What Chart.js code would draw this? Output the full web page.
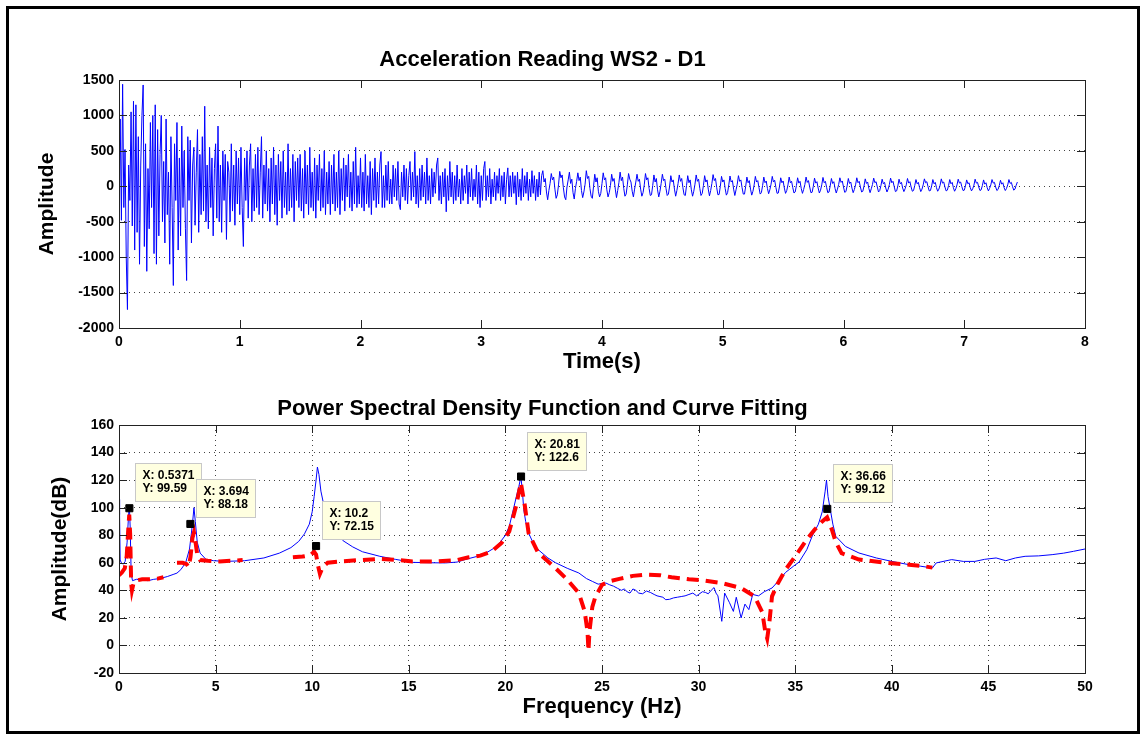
<!DOCTYPE html>
<html><head><meta charset="utf-8">
<script src="https://cdn.jsdelivr.net/npm/chart.js@4.4.1/dist/chart.umd.min.js"></script>
<style>
html,body{margin:0;padding:0;background:#fff;}
body{width:1144px;height:740px;position:relative;overflow:hidden;}
#c1{position:absolute;left:0;top:0;width:1144px;height:390px;}
#c2{position:absolute;left:0;top:390px;width:1144px;height:350px;}
#frame{position:absolute;left:6px;top:6px;width:1134px;height:728px;box-sizing:border-box;border:3px solid #000;pointer-events:none;}
</style></head>
<body>
<canvas id="c1" width="1144" height="390"></canvas>
<canvas id="c2" width="1144" height="350"></canvas>
<div id="frame"></div>
<script>
// ---------- DATA ----------
const SAMPLE_DT = 0.01; // s, sampling interval of the acceleration record
const accel = [
 200,950,-480,1440,-300,520,-1000,-1740,300,-200,1050,-560,1200,-900,1150,-650,700,-1100,300,1000,1430,-850,600,-1200,250,
 -600,900,-300,1000,-950,1150,-1100,800,-700,450,1000,-500,350,-800,950,-400,200,-1100,700,-300,-1400,600,-200,900,-900,
 400,-700,850,-300,500,-600,-1330,700,-200,650,-800,300,550,-550,200,800,-650,450,-400,700,-350,1130,-500,300,-600,
 550,-300,400,-700,250,600,-450,850,-500,300,-650,500,-200,450,-750,350,200,-500,600,-350,300,-550,500,-250,400,
 -400,550,-300,-850,400,-200,500,-450,300,600,-500,250,-350,450,-300,550,-400,200,700,-450,300,-250,500,-350,250,
 -500,400,-250,550,-400,300,-550,450,-200,350,-450,500,-300,200,-400,600,-350,250,-300,450,-500,350,-200,400,-300,
 450,-350,250,-450,500,-250,300,-400,550,-300,200,-350,400,-450,300,-200,450,-350,250,-300,500,-400,200,-250,350,
 -400,300,-250,450,-350,200,-300,500,-400,250,-200,400,-350,300,-150,450,-300,200,-350,350,-250,550,-300,150,-250,
 400,-300,200,-350,450,-250,150,-300,350,-400,250,-200,400,-300,200,-250,300,490,-300,150,-300,300,-200,350,-250,
 100,-250,300,-150,250,-200,350,-250,-330,200,-150,300,-200,250,-250,150,350,-200,200,-150,490,-250,150,-300,250,
 -200,300,-150,200,-250,400,-200,150,-250,250,-150,200,-100,300,400,-200,150,-250,200,-150,250,-360,150,-200,350,
 -150,200,-250,150,-200,300,-150,100,-250,250,-200,150,-100,300,-250,200,-150,250,-200,100,-150,300,-250,200,-300,
 150,-200,250,350,-200,150,-150,250,-250,100,-150,200,-200,150,-100,250,-200,150,-150,200,-250,100,260,-150,150,
 -150,200,-100,150,-260,200,-150,100,-200,250,-150,150,-100,200,-200,100,-150,220,-100,150,-200,100,-150,200,-120,
 150,220,60,110,-80,-190,-60,40,180,90,130,-40,-170,-120,20,210,120,160,-20,-150,-190,-10,90,200,40,
 100,-90,-180,-30,70,190,80,130,-60,-160,-80,30,220,110,140,-30,-140,-170,0,170,60,120,-70,-150,-100,
 40,190,90,120,-50,-150,-90,10,170,70,110,-40,-160,-60,50,200,80,130,-30,-140,-110,20,180,100,60,
 -70,-150,-40,60,170,70,100,-40,-140,-90,20,180,90,120,-30,-130,-120,10,160,60,110,-50,-150,-70,40,
 170,80,100,-30,-130,-110,0,150,60,90,-40,-140,-60,40,160,70,110,-20,-120,-130,10,150,50,90,-50,
 -140,-70,30,160,70,100,-30,-130,-100,10,150,60,90,-40,-135,-60,40,165,80,110,-20,-120,-115,0,140,
 60,90,-30,-125,-90,20,145,60,80,-40,-130,-50,30,150,70,90,-20,-110,-110,0,130,50,80,-40,-125,
 -70,20,140,60,80,-20,-110,-90,10,130,50,75,-30,-105,-50,30,140,60,85,-15,-100,-95,0,120,50,
 75,-25,-100,-60,20,130,50,70,-20,-95,-80,10,120,45,70,-30,-100,-45,25,130,55,80,-10,-90,-85,
 0,115,45,65,-25,-95,-55,20,125,50,70,-15,-90,-80,5,110,40,65,-30,-95,-40,25,120,55,75,
 -10,-85,-75,5,110,40,60,-25,-90,-45,20,120,50,70,-10,-80,-70,5,105,40,60,-30,-90,-35,25,
 115,50,65,-10,-80,-60,10,100,35,55,-25,-80,-40,25,115,50,70,-5,-75,-65,5,100,35,55,-25,
 -75,-35,20,110,45,65,-10,-70,-60,10,95,35,55,-20,-75,-40,20,105,50,65,-5,-65,-60,5,95,
 35,55,-20,-70,-40,15,105,45,60,-10,-65,-55,10,95,35,55,-20,-70,-35,20,100,45,60,-5,-60,
 -55,5,90,35,50,-20,-65,-35,15,100,45,55,-10,-60,-50,10,90,30,50,-20,-65,-30,20,95,45,
 55,-10,-60,-45,10,85,30,50,-20,-60,-30,20,95,40,55,-5,-55,-40,15,60
];

// PSD (blue) [frequency Hz, amplitude dB]
const psd = [
 [0,106],[0.03,95],[0.06,62],[0.12,60],[0.22,59],[0.32,61],[0.42,75],[0.5,96],[0.54,100],[0.58,85],
 [0.63,52],[0.7,47],[0.9,48],[1.2,47.5],[1.5,47],[1.8,48],[2.1,48.5],[2.5,50],[2.8,51.5],[3.0,52.5],
 [3.2,55],[3.45,60],[3.65,70],[3.8,88],[3.88,100],[3.95,90],[4.05,75],[4.2,67],[4.5,62.5],[4.9,61.5],
 [5.5,61],[6.5,61.5],[7.5,63.5],[8.3,67],[8.9,71],[9.3,75.5],[9.6,81],[9.85,88],[10.0,97],[10.1,108],
 [10.2,120],[10.27,129.5],[10.35,124],[10.45,112],[10.6,102],[10.85,90],[11.2,82],[11.6,76],[12.1,71.5],[12.6,68],
 [13.5,64.7],[14.3,62.5],[15.2,60.3],[16.2,60],[16.9,59.9],[17.5,60.5],[17.9,62.3],[18.5,64.5],[19.0,67.1],[19.4,70.5],
 [19.7,74.4],[20.0,80],[20.2,86.4],[20.45,101],[20.6,110],[20.7,115.5],[20.8,122.5],[20.88,112],[20.95,98.5],[21.05,90],
 [21.2,81.6],[21.45,74],[21.7,69.5],[22.2,63.5],[22.6,60],[23.2,56],[23.8,52.6],[24.2,48.5],[24.5,46.5],[24.8,44.5],
 [25.2,45.3],[25.4,44],[25.6,43],[25.8,41.5],[26.0,40],[26.15,41],[26.3,39],[26.45,38],[26.6,41],[26.75,40],
 [26.9,38],[27.1,37.5],[27.3,39.5],[27.5,38.5],[27.7,37],[27.85,36],[28.0,35.5],[28.15,35],[28.3,33.2],[28.5,33.5],
 [28.7,34.5],[28.9,35],[29.1,35.5],[29.3,36],[29.5,37],[29.7,38],[29.9,36],[30.0,37],[30.2,39],[30.35,38.5],
 [30.5,37.5],[30.65,40],[30.8,42],[30.9,38],[31.0,36],[31.2,17.5],[31.35,38],[31.6,31],[31.8,24.7],[31.95,35],
 [32.2,20],[32.4,30],[32.6,26],[32.8,37],[33.1,36],[33.4,39],[33.8,41.7],[34.2,47.8],[34.5,53],[34.9,57.4],
 [35.2,60.5],[35.6,69.5],[35.9,80],[36.2,88],[36.4,97],[36.55,112],[36.62,120],[36.7,108],[36.8,100],[36.95,88],
 [37.1,79.2],[37.6,71.9],[38.3,67.1],[39.2,63.5],[40.0,61],[40.9,58.6],[41.5,57.5],[42.1,56.2],[42.3,59.9],[43.1,62.3],
 [43.7,61],[44.3,61],[44.8,62.5],[45.4,63.5],[45.9,61.5],[46.4,63.5],[46.9,64.7],[47.6,65],[48.3,65.9],[48.9,67],
 [49.4,68.3],[50,70]
];

// Curve fit (red dashed), three separate fitted bands
const fitBand1 = [
 [0,51],[0.15,53],[0.3,56],[0.4,65],[0.47,82],[0.53,95],[0.58,80],[0.63,45],[0.67,40],[0.75,45],
 [0.85,47],[1.2,48],[1.6,48],[2.0,48.5],[2.3,49.5]
];
const fitBand2 = [
 [3.0,60],[3.3,60],[3.5,59],[3.6,57],[3.7,64],[3.8,78],[3.88,82],[3.95,76],[4.05,66],[4.2,62],
 [4.6,61.5],[5.2,61],[5.9,61.5],[6.4,62]
];
const fitBand3 = [
 [9.0,64],[9.5,64.5],[9.9,65.5],[10.1,68],[10.2,66],[10.3,58],[10.4,52],[10.55,57],[10.8,60],[11.5,61],
 [12.5,62],[13.5,62.8],[14.5,62],[15.2,61],[16.5,61],[17.5,62],[18.1,64],[18.7,65.2],[19.3,68.3],[19.8,74.4],
 [20.2,82.8],[20.55,101],[20.8,118],[21.0,102],[21.2,81.6],[21.7,67.1],[22.5,57.4],[23.2,47.8],[23.8,38],[24.1,25],
 [24.25,10],[24.3,-4],[24.35,10],[24.5,28],[24.65,35],[25.0,44],[25.5,47],[25.9,48.3],[26.6,50.5],[27.3,51.4],
 [28.0,51],[28.6,49.5],[29.5,48],[30.2,47.3],[31.2,45.3],[32.2,41.7],[32.9,35.6],[33.3,24],[33.45,10],[33.55,5],
 [33.65,15],[33.8,35.6],[34.1,45],[34.5,55],[35.0,64.7],[35.6,76.8],[36.0,84],[36.4,90],[36.65,93],[36.9,84],
 [37.1,75],[37.4,67],[38.3,62.3],[39.7,60],[40.9,58.6],[41.7,57.4],[42.1,56.5]
];

// Data tips
const tipX = [0.5371, 3.694, 10.2, 20.81, 36.66];
const tipY = [99.59, 88.18, 72.15, 122.6, 99.12];

// Tick settings
const timeTicks = {min: 0, max: 8, step: 1};
const accTicks = {min: -2000, max: 1500, step: 500};
const freqTicks = {min: 0, max: 50, step: 5};
const dbTicks = {min: -20, max: 160, step: 20};

// ---------- STYLE / HELPERS ----------
const FONT = "'Liberation Sans', Arial, Helvetica, sans-serif";
Chart.defaults.font.family = FONT;
Chart.defaults.color = '#000';

const boxPlugin = {
  id: 'matlabBox',
  afterDatasetsDraw(chart) {
    const {ctx, chartArea: a, scales: {x, y}} = chart;
    const L = 8;
    ctx.save();
    ctx.strokeStyle = '#222';
    ctx.lineWidth = 1;
    ctx.beginPath();
    x.ticks.forEach(t => {
      const px = Math.round(x.getPixelForValue(t.value)) + 0.5;
      ctx.moveTo(px, a.bottom); ctx.lineTo(px, a.bottom - L);
      ctx.moveTo(px, a.top); ctx.lineTo(px, a.top + L);
    });
    y.ticks.forEach(t => {
      const py = Math.round(y.getPixelForValue(t.value)) + 0.5;
      ctx.moveTo(a.left, py); ctx.lineTo(a.left + L, py);
      ctx.moveTo(a.right, py); ctx.lineTo(a.right - L, py);
    });
    ctx.stroke();
    ctx.strokeRect(Math.round(a.left) + 0.5, Math.round(a.top) + 0.5,
                   Math.round(a.right - a.left), Math.round(a.bottom - a.top));
    ctx.restore();
  }
};

const tipPlugin = {
  id: 'dataTips',
  afterDraw(chart) {
    const {ctx, scales: {x, y}} = chart;
    ctx.save();
    ctx.font = 'bold 12px ' + FONT;
    ctx.textBaseline = 'middle';
    tipX.forEach((mx, i) => {
      const px = x.getPixelForValue(mx), py = y.getPixelForValue(tipY[i]);
      const l1 = 'X: ' + mx, l2 = 'Y: ' + tipY[i];
      const w = Math.round(Math.max(ctx.measureText(l1).width, ctx.measureText(l2).width) + 14);
      const h = 38;
      const bx = Math.round(px + 6) + 0.5, by = Math.round(py - 7 - h) + 0.5;
      ctx.fillStyle = '#ffffe0';
      ctx.fillRect(bx, by, w, h);
      ctx.strokeStyle = '#c8c8c8';
      ctx.lineWidth = 1;
      ctx.strokeRect(bx, by, w, h);
      ctx.fillStyle = '#000';
      ctx.fillText(l1, bx + 7, by + 12);
      ctx.fillText(l2, bx + 7, by + 25.5);
    });
    ctx.restore();
  }
};

const fmt = v => String(v);
const tickFont = {size: 14, weight: 'bold', family: FONT};
const titleFont = {size: 22, weight: 'bold', family: FONT};
const ylabFont = {size: 21, weight: 'bold', family: FONT};
const gridStyle = {color: '#444', lineWidth: 1, drawTicks: false};

function xyFrom(pairs) { return pairs.map(p => ({x: p[0], y: p[1]})); }

// ---------- CHART 1: time history ----------
new Chart(document.getElementById('c1'), {
  type: 'line',
  data: {
    datasets: [{
      data: accel.map((v, i) => ({x: Math.round(i * SAMPLE_DT * 100) / 100, y: v})),
      borderColor: '#0000ff', borderWidth: 1, pointRadius: 0, tension: 0, fill: false
    }]
  },
  options: {
    responsive: false, animation: false, events: [],
    layout: {padding: {left: 0, right: 59, top: 0, bottom: 0}},
    plugins: {
      legend: {display: false}, tooltip: {enabled: false},
      title: {display: true, text: 'Acceleration Reading WS2 - D1', font: titleFont, color: '#000',
              padding: {top: 46.8, bottom: 6.8}}
    },
    scales: {
      x: {
        type: 'linear', min: timeTicks.min, max: timeTicks.max,
        ticks: {stepSize: timeTicks.step, font: tickFont, color: '#000', padding: 6, maxRotation: 0, autoSkip: false, callback: fmt},
        grid: {display: false, drawTicks: false},
        border: {display: false},
        title: {display: true, text: 'Time(s)', font: titleFont, color: '#000', padding: {top: 0, bottom: 15.3}},
        afterFit(s) { s.height = 62; }
      },
      y: {
        type: 'linear', min: accTicks.min, max: accTicks.max,
        ticks: {stepSize: accTicks.step, font: tickFont, color: '#000', padding: 5, callback: fmt},
        grid: gridStyle,
        border: {display: false, dash: [1, 4]},
        title: {display: true, text: 'Amplitude', font: ylabFont, color: '#000', padding: {top: 34.9, bottom: 0}},
        afterFit(s) { s.width = 119; }
      }
    }
  },
  plugins: [boxPlugin]
});

// ---------- CHART 2: PSD and curve fit ----------
const fitStyle = {borderColor: '#ff0000', borderWidth: 4, borderDash: [12, 7], pointRadius: 0, tension: 0, fill: false};
new Chart(document.getElementById('c2'), {
  type: 'line',
  data: {
    datasets: [
      {data: tipX.map((v, i) => ({x: v, y: tipY[i]})), showLine: false, pointStyle: 'rect',
       pointRadius: 5, backgroundColor: '#000', borderColor: '#000', borderWidth: 1},
      Object.assign({data: xyFrom(fitBand1)}, fitStyle),
      Object.assign({data: xyFrom(fitBand2)}, fitStyle),
      Object.assign({data: xyFrom(fitBand3)}, fitStyle),
      {data: xyFrom(psd), borderColor: '#0000ff', borderWidth: 1, pointRadius: 0, tension: 0, fill: false}
    ]
  },
  options: {
    responsive: false, animation: false, events: [],
    layout: {padding: {left: 0, right: 59, top: 0, bottom: 0}},
    plugins: {
      legend: {display: false}, tooltip: {enabled: false},
      title: {display: true, text: 'Power Spectral Density Function and Curve Fitting', font: titleFont, color: '#000',
              padding: {top: 5.8, bottom: 2.8}}
    },
    scales: {
      x: {
        type: 'linear', min: freqTicks.min, max: freqTicks.max,
        ticks: {stepSize: freqTicks.step, font: tickFont, color: '#000', padding: 6, maxRotation: 0, autoSkip: false, callback: fmt},
        grid: gridStyle,
        border: {display: false, dash: [1, 4]},
        title: {display: true, text: 'Frequency (Hz)', font: titleFont, color: '#000', padding: {top: 0, bottom: 20.3}},
        afterFit(s) { s.height = 67; }
      },
      y: {
        type: 'linear', min: dbTicks.min, max: dbTicks.max,
        ticks: {stepSize: dbTicks.step, font: tickFont, color: '#000', padding: 5, callback: fmt},
        grid: gridStyle,
        border: {display: false, dash: [1, 4]},
        title: {display: true, text: 'Amplitude(dB)', font: ylabFont, color: '#000', padding: {top: 47.4, bottom: 0}},
        afterFit(s) { s.width = 119; }
      }
    }
  },
  plugins: [boxPlugin, tipPlugin]
});
</script>
</body></html>
